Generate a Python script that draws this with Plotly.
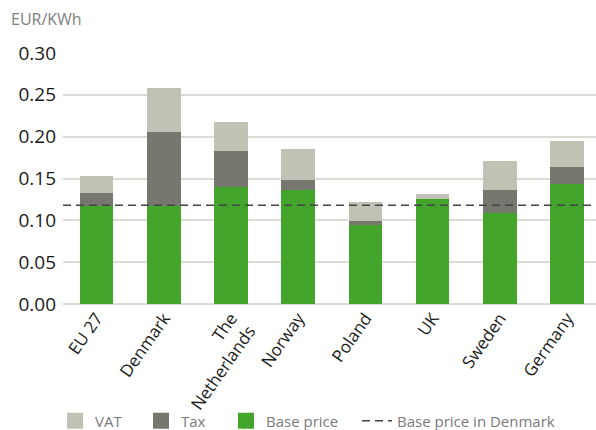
import plotly.graph_objects as go

countries = ["EU 27", "Denmark", "The<br>Netherlands", "Norway", "Poland", "UK", "Sweden", "Germany"]
base_price = [0.117, 0.117, 0.140, 0.136, 0.094, 0.126, 0.109, 0.144]
tax = [0.016, 0.089, 0.043, 0.012, 0.005, 0.000, 0.027, 0.020]
vat = [0.020, 0.052, 0.035, 0.037, 0.023, 0.006, 0.035, 0.031]
denmark_base = 0.118

colors = {"VAT": "#c0c2b4", "Tax": "#76776e", "Base price": "#43a52c"}

fig = go.Figure()
for name, values in [("Base price", base_price), ("Tax", tax), ("VAT", vat)]:
    fig.add_trace(go.Bar(x=countries, y=values, name=name, showlegend=False,
                         marker=dict(color=colors[name], line=dict(width=0))))

# legend entries with bigger square swatches, one legend box each
legend_x = {"VAT": 55, "Tax": 141, "Base price": 226, "Base price in Denmark": 357}
for i, name in enumerate(["VAT", "Tax", "Base price"]):
    fig.add_trace(go.Scatter(x=[None], y=[None], mode="markers", name=name,
                             marker=dict(symbol="square", size=19, color=colors[name]),
                             legend="legend" if i == 0 else f"legend{i + 1}"))

# reference line for the Danish base price
fig.add_shape(type="line", xref="paper", x0=0, x1=1, y0=denmark_base, y1=denmark_base,
              line=dict(color="#444444", width=1.5, dash="8px,5px"),
              showlegend=True, name="Base price in Denmark", legend="legend4")

fig.add_annotation(text="EUR/KWh", xref="paper", yref="paper", x=-0.102, y=1.135,
                   xanchor="left", yanchor="middle", showarrow=False,
                   font=dict(size=16, color="#808080"))

legend_style = dict(orientation="h", xref="container", yref="container",
                    xanchor="left", y=9 / 430, yanchor="middle",
                    bgcolor="rgba(0,0,0,0)", itemsizing="trace",
                    font=dict(size=15, color="#7a7a7a"))
legends = {}
for i, name in enumerate(legend_x):
    key = "legend" if i == 0 else f"legend{i + 1}"
    legends[key] = dict(legend_style, x=legend_x[name] / 596)

fig.update_layout(
    width=596, height=430,
    barmode="stack", bargap=0.5,
    plot_bgcolor="white", paper_bgcolor="white",
    font=dict(family="Open Sans", color="#1a1a1a"),
    margin=dict(l=63, r=0, t=53, b=126, autoexpand=False),
    showlegend=True,
    xaxis=dict(range=[-0.5, 7.43], tickangle=-55, tickfont=dict(size=17, color="#1a1a1a"),
               showgrid=False, showline=False, ticks="", automargin=False),
    yaxis=dict(range=[0, 0.3], dtick=0.05, tickformat=".2f",
               tickfont=dict(size=19, color="#1a1a1a"), ticklabelstandoff=6,
               showgrid=True, gridcolor="#dddcd5", gridwidth=2,
               zeroline=True, zerolinecolor="#dddcd5", zerolinewidth=2, ticks="",
               automargin=False),
    **legends,
)

fig.write_html("out.html", config={"displayModeBar": False},
               post_script="document.body.style.margin='0';")
